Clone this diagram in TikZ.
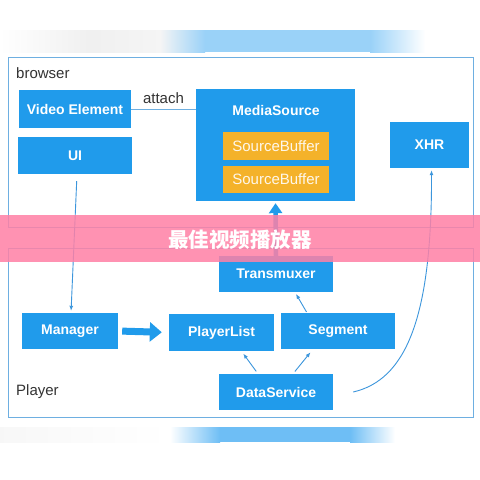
\documentclass[tikz,border=0pt]{standalone}
\usepackage{fontspec}
\setmainfont{Liberation Sans}
\newfontfamily\cjk{Noto Sans CJK SC}
\usepackage{xcolor}
\usetikzlibrary{arrows.meta,positioning}
\definecolor{boxblue}{RGB}{32,155,235}
\definecolor{bufor}{RGB}{244,178,42}
\definecolor{framec}{RGB}{110,175,225}
\definecolor{arrc}{RGB}{60,150,220}
\definecolor{bandpink}{RGB}{255,128,165}
\definecolor{skyb}{RGB}{110,190,245}

\begin{document}
\begin{tikzpicture}[x=1pt,y=-1pt,
  box/.style={fill=boxblue, draw=none, text=white, font=\fontsize{14}{16}\selectfont\bfseries, inner sep=0pt},
  buf/.style={fill=bufor, draw=none, text=white!90!bufor, font=\fontsize{15}{17}\selectfont, minimum width=106pt, minimum height=27.5pt, inner sep=0pt},
  frame/.style={draw=framec, line width=1pt},
  lbl/.style={text=black!80, font=\fontsize{15}{17}\selectfont, inner sep=0pt},
  arr/.style={draw=arrc, line width=0.9pt, -{Latex[length=5pt,width=4pt]}},
  bigarr/.style={draw=boxblue, line width=7pt, -{Triangle[length=12pt,width=19pt]}}
]
\useasboundingbox (0,0) rectangle (480,480);
\fill[white] (0,0) rectangle (480,480);

% top and bottom gradient bands
\shade[left color=white, right color=gray!12] (0,30) rectangle (90,52);
\shade[left color=gray!12, right color=gray!8] (90,30) rectangle (160,52);
\shade[left color=gray!8, right color=skyb!70] (160,30) rectangle (205,52);
\fill[skyb!70] (205,30) rectangle (370,52);
\shade[left color=skyb!70, right color=white] (370,30) rectangle (425,52);
\shade[left color=gray!6, right color=white] (0,427) rectangle (170,442);
\shade[left color=white, right color=skyb] (170,427) rectangle (220,442);
\fill[skyb] (220,427) rectangle (350,442);
\shade[left color=skyb, right color=white] (350,427) rectangle (395,442);

% frames
\draw[frame] (8,57) rectangle (473,227);
\draw[frame] (8,248) rectangle (473,417);
\node[lbl, anchor=west] (brw) at (16,73) {browser};
\node[lbl, anchor=west] (ply) at (16,392) {Player};

% browser
\node[box, minimum width=112pt, minimum height=38pt] (video) at (75,109) {Video Element};
\node[box, minimum width=114pt, minimum height=37pt] (ui) at (75,155.5) {UI};
\node[box, minimum width=159pt, minimum height=112pt] (ms) at (275.5,145) {};
\node[box] (mstitle) at (276,110) {MediaSource};
\node[buf] (sb1) at (276,146) {SourceBuffer};
\node[buf] (sb2) at (276,179.5) {SourceBuffer};
\node[box, minimum width=79pt, minimum height=46pt] (xhr) at (429.5,145) {XHR};

% player
\node[box, minimum width=114pt, minimum height=36pt] (trans) at (276,274) {Transmuxer};
\node[box, minimum width=96pt, minimum height=36pt] (mgr) at (70,331) {Manager};
\node[box, minimum width=105pt, minimum height=37pt] (plist) at (221.5,332.5) {PlayerList};
\node[box, minimum width=114pt, minimum height=36pt] (seg) at (338,331) {Segment};
\node[box, minimum width=114pt, minimum height=36pt] (ds) at (276,392) {DataService};

\draw[draw=framec, line width=1pt] (video.east) -- node[lbl, above=5pt] (att) {attach} (video.east -| ms.west);
\draw[arr, shorten <=7pt, shorten >=2pt] ([xshift=2pt]ui.south) -- ([xshift=1pt]mgr.north);
\draw[bigarr, shorten <=4pt, shorten >=7pt] (mgr.east) -- (plist.west);
\draw[draw=boxblue, line width=4.5pt, -{Triangle[length=10pt,width=13pt]}, shorten >=2pt] (trans.north) -- (ms.south);
\draw[arr, shorten <=1pt, shorten >=2pt] ([xshift=-31pt]seg.north) -- ([xshift=19pt]trans.south);
\draw[arr, shorten <=3pt, shorten >=3pt] ([xshift=-18pt]ds.north) -- ([xshift=20pt]plist.south);
\draw[arr, shorten <=3pt, shorten >=4pt] ([xshift=17pt]ds.north) -- ([xshift=-25pt]seg.south);
\draw[arr, shorten >=2pt] ([xshift=20pt]ds.east) .. controls (405,380) and (432,320) .. ([xshift=2pt]xhr.south);

% title band
\fill[bandpink, opacity=0.85] (0,215) rectangle (480,262);
\node[text=white, font=\cjk\bfseries\fontsize{20.5}{22}\selectfont, inner sep=0pt] (title) at (240,240) {最佳视频播放器};
\end{tikzpicture}
\end{document}
